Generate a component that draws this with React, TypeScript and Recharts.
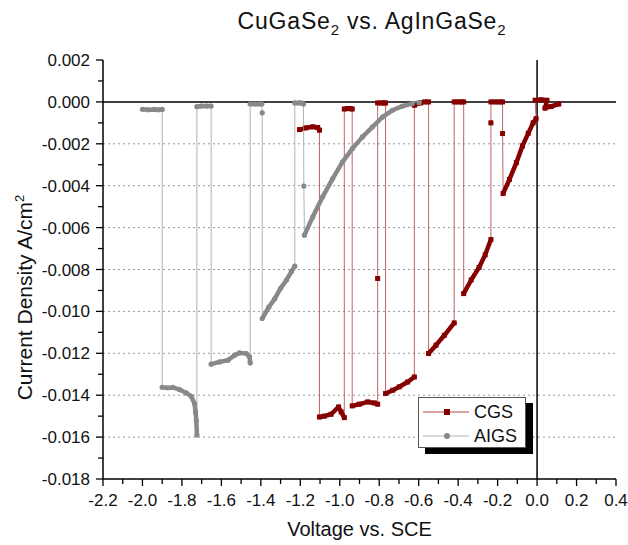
import React from 'react';
import { LineChart, Line, XAxis, YAxis, ReferenceLine } from 'recharts';

type Pt = [number, number];

// chopped-light sweeps: [voltage vs SCE (V), current density (A/cm2)]
// each inner list is one light-on or light-off stretch, single points are the transients
const cgsSegments: Pt[][] = [
  [[-1.204, -0.00132], [-1.171, -0.00124], [-1.137, -0.00119], [-1.112, -0.00122], [-1.103, -0.00135]],
  [[-1.103, -0.01504], [-1.078, -0.015], [-1.044, -0.01491], [-1.006, -0.01456], [-0.993, -0.0148], [-0.977, -0.01507]],
  [[-0.977, -0.00034], [-0.96, -0.00032], [-0.945, -0.00032], [-0.937, -0.00034]],
  [[-0.937, -0.01451], [-0.901, -0.01443], [-0.858, -0.01432], [-0.825, -0.01437], [-0.808, -0.01443]],
  [[-0.808, -0.00843]],
  [[-0.808, -0.00005], [-0.79, -0.00005], [-0.775, -0.00005], [-0.768, -0.00005]],
  [[-0.768, -0.01392], [-0.731, -0.01376], [-0.698, -0.0136], [-0.656, -0.01337], [-0.622, -0.01313]],
  [[-0.622, -0.00016], [-0.59, -0.00005], [-0.57, 0], [-0.55, 0]],
  [[-0.55, -0.01201], [-0.512, -0.01161], [-0.47, -0.01114], [-0.42, -0.01055]],
  [[-0.42, 0], [-0.4, 0], [-0.385, 0], [-0.372, 0]],
  [[-0.372, -0.00915], [-0.334, -0.0085], [-0.294, -0.0079], [-0.263, -0.0073], [-0.234, -0.00657]],
  [[-0.234, -0.001]],
  [[-0.234, 0], [-0.21, 0], [-0.19, 0], [-0.175, 0]],
  [[-0.175, -0.00151]],
  [[-0.172, -0.00437], [-0.14, -0.0037], [-0.105, -0.0029], [-0.074, -0.0021], [-0.045, -0.0015], [-0.02, -0.001], [-0.005, -0.0008]],
  [[-0.01, 0.00008], [0.02, 0.0001], [0.05, 0.00008], [0.04, -0.0003], [0.07, -0.00022], [0.11, -0.0001]],
];

const aigsSegments: Pt[][] = [
  [[-2.0, -0.00035], [-1.97, -0.00038], [-1.94, -0.00036], [-1.92, -0.00038], [-1.9, -0.00036]],
  [[-1.9, -0.01362], [-1.872, -0.01365], [-1.846, -0.01363], [-1.812, -0.01373], [-1.778, -0.01389], [-1.753, -0.01405], [-1.736, -0.0144], [-1.731, -0.0148], [-1.727, -0.0152], [-1.724, -0.0159]],
  [[-1.724, -0.00023], [-1.7, -0.0002], [-1.675, -0.0002], [-1.652, -0.0002]],
  [[-1.652, -0.01252], [-1.609, -0.01241], [-1.567, -0.01233], [-1.533, -0.01209], [-1.508, -0.01198], [-1.474, -0.01201], [-1.457, -0.01217], [-1.454, -0.01246]],
  [[-1.454, -0.0001], [-1.43, -0.0001], [-1.41, -0.0001], [-1.395, -0.0001]],
  [[-1.393, -0.00052]],
  [[-1.393, -0.01034], [-1.36, -0.0098], [-1.33, -0.0094], [-1.3, -0.0089], [-1.27, -0.0085], [-1.245, -0.0081], [-1.228, -0.00784]],
  [[-1.228, -0.00005], [-1.21, -0.00005], [-1.195, -0.00005], [-1.184, -0.0001]],
  [[-1.182, -0.00402]],
  [[-1.179, -0.00636], [-1.137, -0.00549], [-1.087, -0.00453], [-1.036, -0.00366], [-0.986, -0.00286], [-0.935, -0.00222], [-0.885, -0.00167], [-0.834, -0.00119], [-0.783, -0.00072], [-0.733, -0.0004], [-0.682, -0.0002], [-0.632, -0.00008], [-0.597, -0.00003]],
];

const xTicks = [
  -2.2, -2.1, -2.0, -1.9, -1.8, -1.7, -1.6, -1.5, -1.4, -1.3, -1.2, -1.1, -1.0, -0.9,
  -0.8, -0.7, -0.6, -0.5, -0.4, -0.3, -0.2, -0.1, 0.0, 0.1, 0.2, 0.3, 0.4,
];
const yTicks = [
  -0.018, -0.017, -0.016, -0.015, -0.014, -0.013, -0.012, -0.011, -0.01, -0.009, -0.008,
  -0.007, -0.006, -0.005, -0.004, -0.003, -0.002, -0.001, 0, 0.001, 0.002,
];
const gridLevels = [-0.016, -0.014, -0.012, -0.01, -0.008, -0.006, -0.004, -0.002];

const FONT = '"Liberation Sans", Arial, sans-serif';
const CGS_DARK = '#870000';
const CGS_THIN = '#b84a4a';
const AIGS_DARK = '#898989';
const AIGS_THIN = '#b4b4b4';

const toThin = (segs: Pt[][]) => segs.flat().map(([x, y]) => ({ x, y }));
const toThick = (segs: Pt[][]) =>
  segs.flatMap((s) => [...s.map(([x, y]) => ({ x, y })), { x: s[s.length - 1][0], y: null }]);

const XTick = (props: any) => {
  const { x, y, payload } = props;
  const major = Math.abs(Math.round(payload.value * 10)) % 2 === 0;
  return (
    <g>
      <line x1={x} x2={x} y1={y} y2={y + (major ? 7 : 5)} stroke="#000" strokeWidth={1.3} />
      {major && (
        <text x={x} y={y + 27} textAnchor="middle" fontSize={17} fontFamily={FONT} fill="#111">
          {payload.value.toFixed(1)}
        </text>
      )}
    </g>
  );
};

const YTick = (props: any) => {
  const { x, y, payload } = props;
  const major = Math.abs(Math.round(payload.value * 1000)) % 2 === 0;
  return (
    <g>
      <line x1={x - (major ? 7 : 5)} x2={x} y1={y} y2={y} stroke="#000" strokeWidth={1.3} />
      {major && (
        <text x={x - 13} y={y + 6} textAnchor="end" fontSize={17} fontFamily={FONT} fill="#111">
          {payload.value.toFixed(3)}
        </text>
      )}
    </g>
  );
};

const squareDot = (props: any) => {
  const { cx, cy, index } = props;
  if (cx == null || cy == null || isNaN(cy)) return <g key={`s${index}`} />;
  return <rect key={`s${index}`} x={cx - 2.5} y={cy - 2.5} width={5} height={5} fill={CGS_DARK} />;
};

const circleDot = (props: any) => {
  const { cx, cy, index } = props;
  if (cx == null || cy == null || isNaN(cy)) return <g key={`c${index}`} />;
  return <circle key={`c${index}`} cx={cx} cy={cy} r={2.6} fill={AIGS_DARK} />;
};

export default function App() {
  return (
    <div style={{ position: 'absolute', left: 0, top: 0, width: 628, height: 545, background: '#fff', fontFamily: FONT }}>
      <LineChart width={628} height={545} margin={{ top: 60, right: 12, bottom: 0, left: 3 }}>
        <XAxis
          type="number"
          dataKey="x"
          domain={[-2.2, 0.4]}
          allowDataOverflow
          ticks={xTicks}
          interval={0}
          tick={<XTick />}
          tickLine={false}
          tickSize={0}
          tickMargin={0}
          height={66}
          axisLine={{ stroke: '#000', strokeWidth: 1.5 }}
        />
        <YAxis
          type="number"
          domain={[-0.018, 0.002]}
          allowDataOverflow
          ticks={yTicks}
          interval={0}
          tick={<YTick />}
          tickLine={false}
          tickSize={0}
          tickMargin={0}
          width={100}
          axisLine={{ stroke: '#000', strokeWidth: 1.5 }}
        />
        {gridLevels.map((v) => (
          <ReferenceLine key={v} y={v} stroke="#999" strokeDasharray="2 3" strokeWidth={1} />
        ))}
        <ReferenceLine y={0} stroke="#000" strokeWidth={1.5} />
        <ReferenceLine x={0} stroke="#000" strokeWidth={1.5} />
        <Line
          data={toThin(cgsSegments)}
          dataKey="y"
          type="linear"
          stroke={CGS_THIN}
          strokeWidth={1}
          strokeOpacity={0.85}
          dot={false}
          isAnimationActive={false}
        />
        <Line
          data={toThick(cgsSegments)}
          dataKey="y"
          type="linear"
          stroke={CGS_DARK}
          strokeWidth={4.5}
          strokeLinecap="round"
          strokeLinejoin="round"
          connectNulls={false}
          dot={squareDot}
          isAnimationActive={false}
        />
        <Line
          data={toThin(aigsSegments)}
          dataKey="y"
          type="linear"
          stroke={AIGS_THIN}
          strokeWidth={1}
          dot={false}
          isAnimationActive={false}
        />
        <Line
          data={toThick(aigsSegments)}
          dataKey="y"
          type="linear"
          stroke={AIGS_DARK}
          strokeWidth={4.5}
          strokeLinecap="round"
          strokeLinejoin="round"
          connectNulls={false}
          dot={circleDot}
          isAnimationActive={false}
        />
      </LineChart>

      <div style={{ position: 'absolute', left: 0, width: 744, top: 8, textAlign: 'center', fontSize: 23, letterSpacing: 0.8, color: '#111', whiteSpace: 'nowrap' }}>
        CuGaSe<sub style={{ fontSize: 15 }}>2</sub> vs. AgInGaSe<sub style={{ fontSize: 15 }}>2</sub>
      </div>

      <div style={{ position: 'absolute', left: 103, width: 513, top: 518, textAlign: 'center', fontSize: 20, color: '#111' }}>
        Voltage vs. SCE
      </div>

      <div style={{ position: 'absolute', left: 24, top: 298, width: 0, height: 0 }}>
        <div
          style={{
            position: 'absolute', left: -150, top: -13, width: 300, textAlign: 'center',
            transform: 'rotate(-90deg)', fontSize: 21, color: '#111', whiteSpace: 'nowrap',
          }}
        >
          Current Density A/cm<sup style={{ fontSize: 13 }}>2</sup>
        </div>
      </div>

      <div
        style={{
          position: 'absolute', left: 418, top: 397, width: 106, height: 49,
          background: '#fff', border: '1px solid #555', boxShadow: '7px 6px 0 #000',
        }}
      >
        {[
          { name: 'CGS', thin: CGS_THIN, dark: CGS_DARK, square: true },
          { name: 'AIGS', thin: AIGS_THIN, dark: AIGS_DARK, square: false },
        ].map((s, i) => (
          <div key={s.name} style={{ position: 'absolute', left: 4, top: 3 + i * 24, height: 22, display: 'flex', alignItems: 'center' }}>
            <svg width={48} height={12}>
              <line x1={0} x2={46} y1={6} y2={6} stroke={s.thin} strokeWidth={1.2} />
              {s.square ? (
                <rect x={21} y={3} width={6} height={6} fill={s.dark} />
              ) : (
                <circle cx={24} cy={6} r={3} fill={s.dark} />
              )}
            </svg>
            <span style={{ fontSize: 18, color: '#111', marginLeft: 3 }}>{s.name}</span>
          </div>
        ))}
      </div>
    </div>
  );
}
